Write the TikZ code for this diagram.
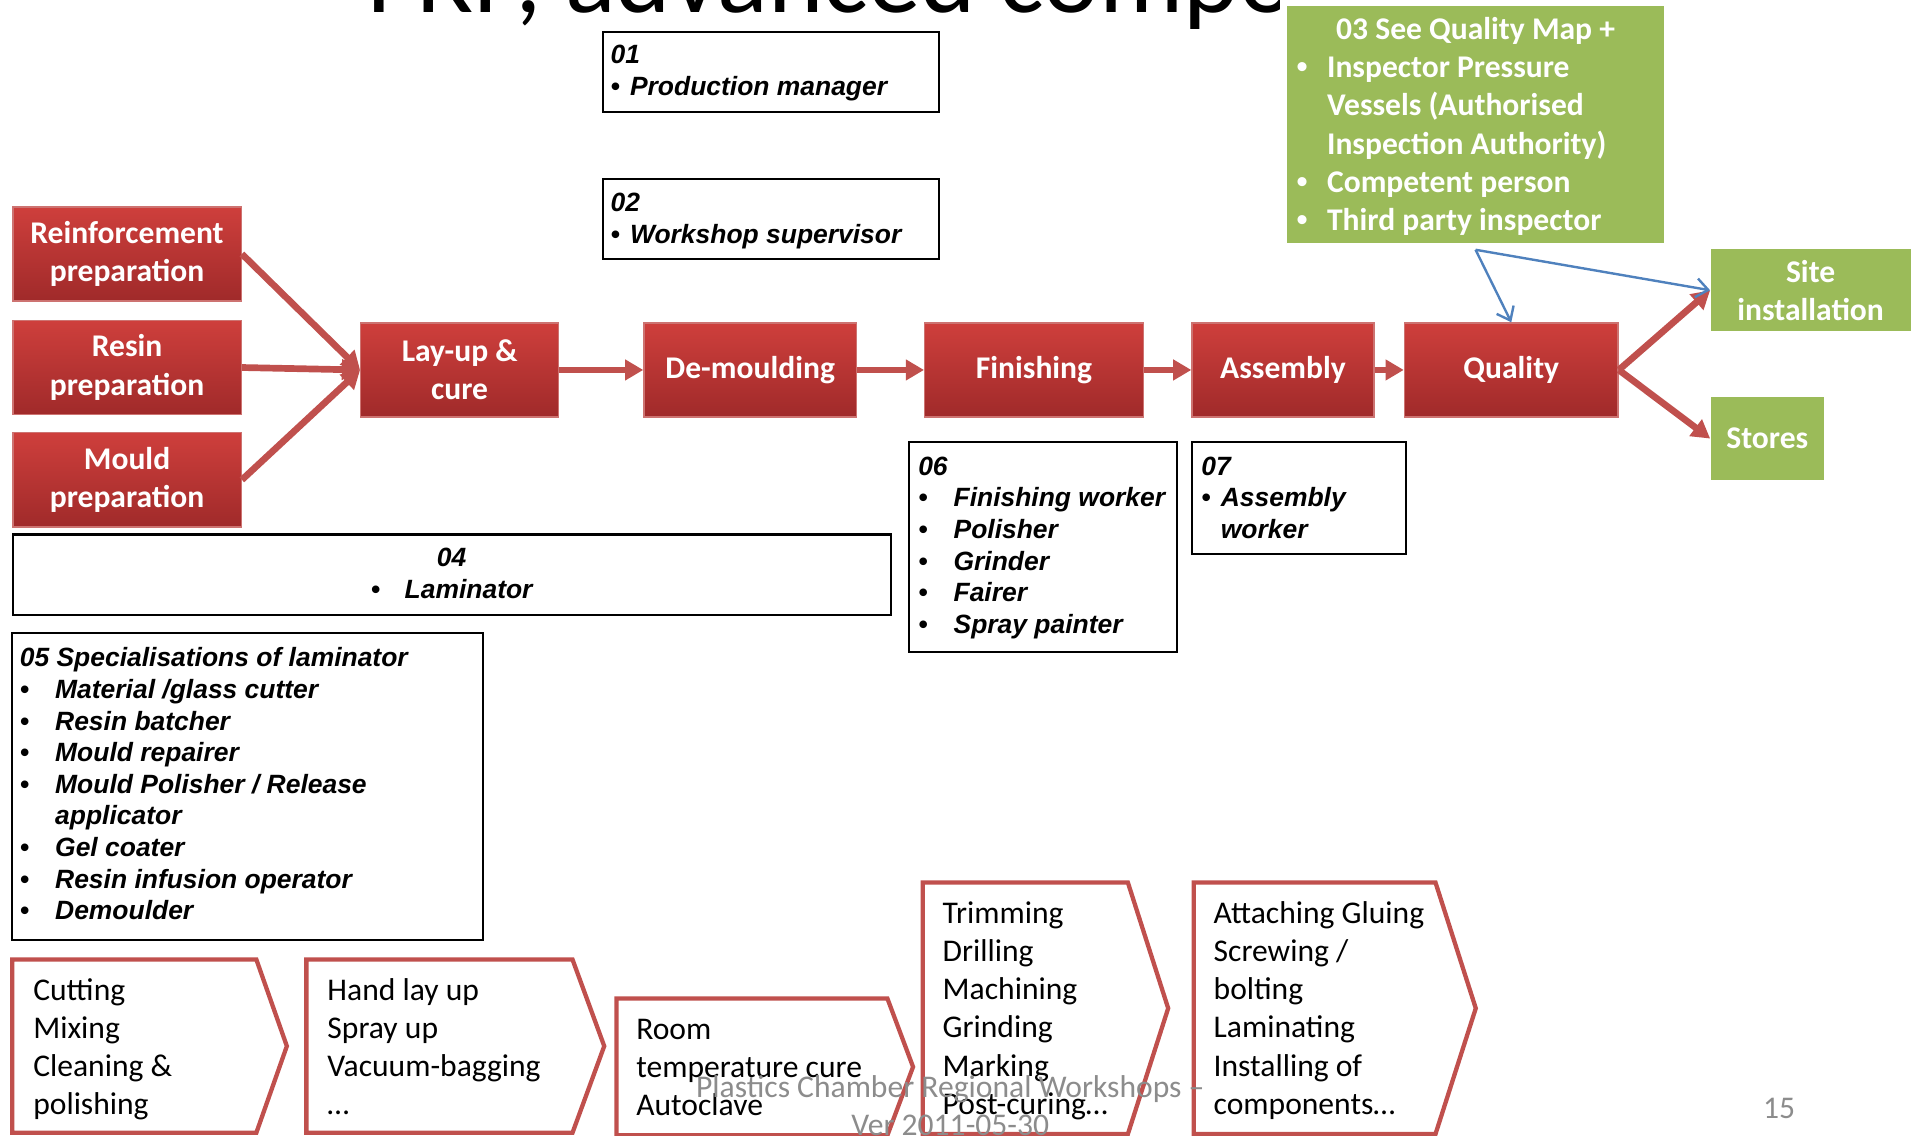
\documentclass[tikz,border=0pt]{standalone}
\usepackage{fontspec}
\setmainfont{Carlito}
\newfontfamily\listfont{Liberation Sans}
\usepackage{tikz}
\usetikzlibrary{arrows.meta}

\definecolor{boxred}{RGB}{192,80,77}
\definecolor{redtop}{RGB}{206,63,60}
\definecolor{redbot}{RGB}{160,42,42}
\definecolor{quagreen}{RGB}{155,187,89}
\definecolor{linkblue}{RGB}{79,129,189}
\definecolor{footgray}{RGB}{140,140,140}

\newcommand{\rolebullet}[1]{\makebox[#1][l]{\listfont\textbullet}}

\tikzset{
  stage/.style={rectangle, draw=boxred!80!white, line width=0.8pt, top color=redtop, bottom color=redbot, text=white, font=\fontsize{18.4}{22.3}\selectfont\bfseries, align=center, minimum height=1.925cm, anchor=north west, inner sep=0pt},
  greenbox/.style={rectangle, fill=quagreen, text=white, font=\fontsize{18.4}{22.3}\selectfont\bfseries, align=center, anchor=north west, inner sep=0pt},
  rolebox/.style={rectangle, draw=black, line width=1.2pt, anchor=north west, inner sep=0pt},
  roletext/.style={anchor=north west, inner sep=0pt, align=left, font=\listfont\fontsize{15.4}{18.4}\selectfont\bfseries\itshape},
  flow/.style={draw=boxred, line width=3.9pt, -{Triangle[length=10.6pt,width=11.6pt]}},
  link/.style={draw=linkblue, line width=1.4pt, -{Straight Barb[length=7pt,width=11pt]}},
  chev/.style={draw=boxred, line width=2.5pt, line join=miter, fill=white},
  chevtext/.style={anchor=north west, inner sep=0pt, align=left, font=\fontsize{18.4}{22.3}\selectfont},
}

\begin{document}
\begin{tikzpicture}[x=0.025cm, y=-0.025cm]

\useasboundingbox (0,0) rectangle (1568,930);

% title, cut at the top
\begin{scope}
\clip (0,0) rectangle (1048.6,60);
\node [anchor=base west, inner sep=0pt, font=\fontsize{61.5}{72}\selectfont] (title) at (301,10) {FRP, advanced composites};
\end{scope}

% roles
\node at (493,25) [rolebox, minimum width=6.875cm, minimum height=1.65cm] (b01) {};
\node at (500,34) [roletext] (t01) {\strut 01\\ \rolebullet{11.3pt}Production manager};

\node at (493,146) [rolebox, minimum width=6.875cm, minimum height=1.625cm] (b02) {};
\node at (500,155) [roletext] (t02) {\strut 02\\ \rolebullet{11.3pt}Workshop supervisor};

\node at (1054,5) [greenbox, minimum width=7.725cm, minimum height=4.85cm] (qmap) {};
\node at (1062,10) [greenbox, align=left] (tqmap) {\strut\makebox[208.4pt][c]{03 See Quality Map +}\\
\rolebullet{17.7pt}Inspector Pressure\\
\hspace*{17.7pt}Vessels (Authorised\\
\hspace*{17.7pt}Inspection Authority)\\
\rolebullet{17.7pt}Competent person\\
\rolebullet{17.7pt}Third party inspector};

% process chain
\node at (10,169) [stage, minimum width=4.675cm] (reinf) {Reinforcement\\ preparation};
\node at (10,262) [stage, minimum width=4.675cm] (resin) {Resin\\ preparation};
\node at (10,354) [stage, minimum width=4.675cm] (mould) {Mould\\ preparation};
\node at (295,264) [stage, minimum width=4.05cm] (layup) {Lay-up \&\\ cure};
\node at (527,264) [stage, minimum width=4.35cm] (demould) {De-moulding};
\node at (757,264) [stage, minimum width=4.475cm] (finish) {Finishing};
\node at (976,264) [stage, minimum width=3.725cm] (assembly) {Assembly};
\node at (1150,264) [stage, minimum width=4.375cm] (quality) {Quality};

\node at (1401,204) [greenbox, minimum width=4.1cm, minimum height=1.675cm] (site) {Site\\ installation};
\node at (1401,325) [greenbox, minimum width=2.325cm, minimum height=1.7cm] (stores) {Stores};

\draw [flow] (reinf.east) -- (layup.west);
\draw [flow] (resin.east) -- (layup.west);
\draw [flow] (mould.east) -- (layup.west);
\draw [flow] (layup.east) -- (demould.west);
\draw [flow] (demould.east) -- (finish.west);
\draw [flow] (finish.east) -- (assembly.west);
\draw [flow] (assembly.east) -- (quality.west);
\draw [flow] (quality.east) -- (site.west);
\draw [flow] (quality.east) -- (stores.west);

\coordinate (qfoot) at ([yshift=-0.125cm]qmap.south);
\draw [link] (qfoot) -- (quality.north);
\draw [link] (qfoot) -- (site.west);

\node at (744,361) [rolebox, minimum width=5.475cm, minimum height=4.3cm] (b06) {};
\node at (752,371) [roletext] (t06) {\strut 06\\
\rolebullet{20.6pt}Finishing worker\\
\rolebullet{20.6pt}Polisher\\
\rolebullet{20.6pt}Grinder\\
\rolebullet{20.6pt}Fairer\\
\rolebullet{20.6pt}Spray painter};

\node at (976,361) [rolebox, minimum width=4.375cm, minimum height=2.3cm] (b07) {};
\node at (984,371) [roletext] (t07) {\strut 07\\
\rolebullet{11.3pt}Assembly\\
\hspace*{11.3pt}worker};

\node at (10,437) [rolebox, minimum width=17.975cm, minimum height=1.65cm] (b04) {};
\node at (370,446) [roletext, anchor=north, align=center] (t04) {\strut 04\\ \rolebullet{19.8pt}Laminator};

\node at (9,518) [rolebox, minimum width=9.65cm, minimum height=6.275cm] (b05) {};
\node at (16,528) [roletext] (t05) {\strut 05 Specialisations of laminator\\
\rolebullet{20.6pt}Material /glass cutter\\
\rolebullet{20.6pt}Resin batcher\\
\rolebullet{20.6pt}Mould repairer\\
\rolebullet{20.6pt}Mould Polisher / Release\\
\hspace*{20.6pt}applicator\\
\rolebullet{20.6pt}Gel coater\\
\rolebullet{20.6pt}Resin infusion operator\\
\rolebullet{20.6pt}Demoulder};

% methods per step
\draw [chev] (10,786) -- (210,786) -- (235,857) -- (210,928) -- (10,928) -- cycle;
\node at (27,797) [chevtext] (m1) {\strut Cutting\\ Mixing\\ Cleaning \&\\ polishing};

\draw [chev] (251,786) -- (469,786) -- (495,857) -- (469,928) -- (251,928) -- cycle;
\node at (268,797) [chevtext] (m2) {\strut Hand lay up\\ Spray up\\ Vacuum-bagging\\ …};

\draw [chev] (505,818) -- (727,818) -- (748,874) -- (727,930) -- (505,930) -- cycle;
\node at (521,829) [chevtext] (m3) {\strut Room\\ temperature cure\\ Autoclave};

\draw [chev] (756,723) -- (924,723) -- (957,826) -- (924,929) -- (756,929) -- cycle;
\node at (772,734) [chevtext] (m4) {\strut Trimming\\ Drilling\\ Machining\\ Grinding\\ Marking\\ Post-curing…};

\draw [chev] (978,723) -- (1176,723) -- (1209,826) -- (1176,929) -- (978,929) -- cycle;
\node at (994,734) [chevtext] (m5) {\strut Attaching Gluing\\ Screwing /\\ bolting\\ Laminating\\ Installing of\\ components…};

% footer
\node at (778.5,877) [chevtext, anchor=north, align=center, text=footgray] (foot) {\strut Plastics Chamber Regional Workshops –\\ Ver 2011-05-30};
\node at (1457.5,916) [anchor=base, inner sep=0pt, text=footgray, font=\fontsize{18.4}{22.3}\selectfont] (page) {15};

\end{tikzpicture}
\end{document}
